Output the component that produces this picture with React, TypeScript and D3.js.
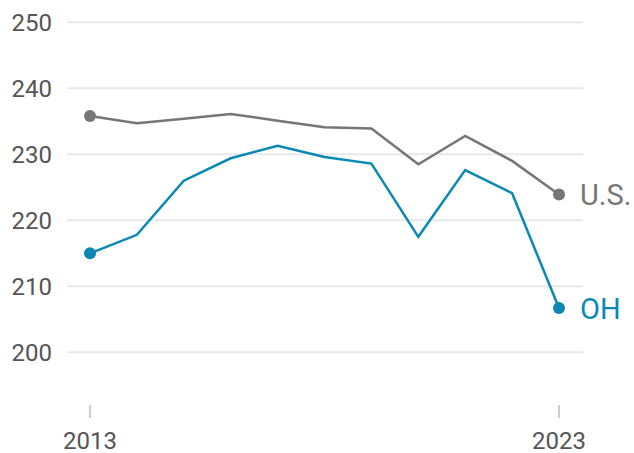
import React from "react";
import * as d3 from "d3";

const years = [2013, 2014, 2015, 2016, 2017, 2018, 2019, 2020, 2021, 2022, 2023];
const usValues = [235.8, 234.7, 235.4, 236.1, 235.1, 234.1, 233.9, 228.5, 232.8, 229.0, 223.9];
const ohValues = [215.0, 217.8, 226.0, 229.4, 231.3, 229.6, 228.6, 217.5, 227.6, 224.1, 206.7];
const yTicks = [200, 210, 220, 230, 240, 250];
const xTickLabels = [2013, 2023];
const seriesNames = ["U.S.", "OH"];

const W = 634;
const H = 453;

export default function App() {
  const x = d3.scaleLinear().domain([2013, 2023]).range([90, 559]);
  const y = d3.scaleLinear().domain([200, 250]).range([352.3, 22.3]);
  const series = [
    { name: seriesNames[0], values: usValues, color: "#767676" },
    { name: seriesNames[1], values: ohValues, color: "#0a88b4" },
  ];
  const line = d3
    .line<number>()
    .x((_, i) => x(years[i]))
    .y((d) => y(d));
  const font = "Roboto, 'Liberation Sans', sans-serif";
  return (
    <svg
      width={W}
      height={H}
      style={{ position: "absolute", left: 0, top: 0, display: "block" }}
      fontFamily={font}
    >
      <rect width={W} height={H} fill="#fff" />
      {yTicks.map((t) => (
        <g key={t}>
          <line x1={67} x2={583} y1={y(t)} y2={y(t)} stroke="#e8e8e8" strokeWidth={2} />
          <text
            x={52}
            y={y(t)}
            dy="0.35em"
            textAnchor="end"
            fontSize={24}
            fill="#555"
          >
            {t}
          </text>
        </g>
      ))}
      {xTickLabels.map((t) => (
        <g key={t}>
          <line x1={x(t)} x2={x(t)} y1={405} y2={418} stroke="#cccccc" strokeWidth={2} />
          <text x={x(t)} y={449} textAnchor="middle" fontSize={24} fill="#555">
            {t}
          </text>
        </g>
      ))}
      {series.map((s) => (
        <g key={s.name}>
          <path d={line(s.values) || ""} fill="none" stroke={s.color} strokeWidth={2.5} strokeLinejoin="miter" />
          <circle cx={x(years[0])} cy={y(s.values[0])} r={6} fill={s.color} />
          <circle
            cx={x(years[years.length - 1])}
            cy={y(s.values[s.values.length - 1])}
            r={6}
            fill={s.color}
          />
          <text
            x={580}
            y={y(s.values[s.values.length - 1])}
            dy="0.36em"
            fontSize={29}
            fill={s.color}
          >
            {s.name}
          </text>
        </g>
      ))}
    </svg>
  );
}
